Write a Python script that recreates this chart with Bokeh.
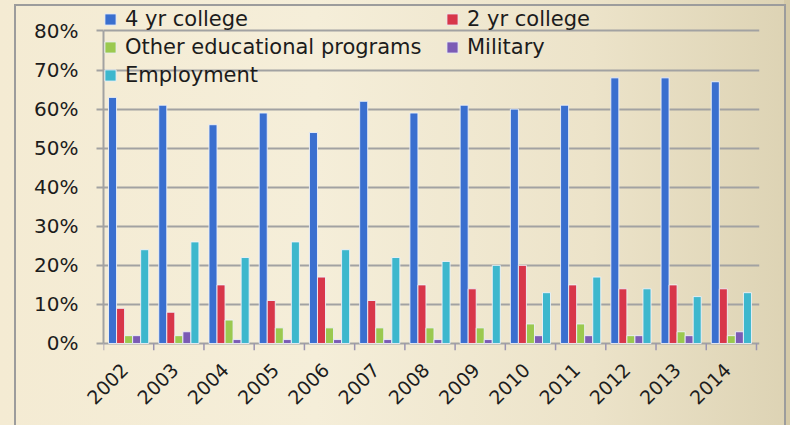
import numpy as np
from bokeh.plotting import figure
from bokeh.models import (ColumnDataSource, Range1d, FixedTicker,
                          NumeralTickFormatter, Legend, LegendItem, InlineStyleSheet)
from bokeh.transform import dodge
from bokeh.embed import file_html
from bokeh.resources import INLINE

# ---- data ----
years = ["2002", "2003", "2004", "2005", "2006", "2007", "2008",
         "2009", "2010", "2011", "2012", "2013", "2014"]
series_names = ["4 yr college", "2 yr college", "Other educational programs",
                "Military", "Employment"]
college4 = [0.63, 0.61, 0.56, 0.59, 0.54, 0.62, 0.59, 0.61, 0.60, 0.61, 0.68, 0.68, 0.67]
college2 = [0.09, 0.08, 0.15, 0.11, 0.17, 0.11, 0.15, 0.14, 0.20, 0.15, 0.14, 0.15, 0.14]
other_edu = [0.02, 0.02, 0.06, 0.04, 0.04, 0.04, 0.04, 0.04, 0.05, 0.05, 0.02, 0.03, 0.02]
military = [0.02, 0.03, 0.01, 0.01, 0.01, 0.01, 0.01, 0.01, 0.02, 0.02, 0.02, 0.02, 0.03]
employment = [0.24, 0.26, 0.22, 0.26, 0.24, 0.22, 0.21, 0.20, 0.13, 0.17, 0.14, 0.12, 0.13]
y_ticks = [0.0, 0.1, 0.2, 0.3, 0.4, 0.5, 0.6, 0.7, 0.8]

colors = ["#3a6fcf", "#d8364a", "#9bc94f", "#7b5bb5", "#3db7cd"]
font = "DejaVu Sans"
text_col = "#1c1c1c"
grid_col = "#a2a2a2"

n = len(years)
centers = [i + 0.5 for i in range(n)]
label_pos = [i + 0.42 for i in range(n)]
src = ColumnDataSource(dict(x=centers, c4=college4, c2=college2, oe=other_edu,
                            mil=military, emp=employment))
cols = ["c4", "c2", "oe", "mil", "emp"]
bar_w = 0.16
offsets = [(k - 2) * bar_w for k in range(5)]

tick_len = 0.018  # tick length below the 0% line, in data units
p = figure(width=790, height=425, x_range=Range1d(0, n + 0.06),
           y_range=Range1d(-tick_len, 0.878), output_backend="svg",
           toolbar_location=None, min_border_left=103, min_border_right=31,
           min_border_top=0, min_border_bottom=75,
           background_fill_alpha=0, border_fill_alpha=0,
           outline_line_color=None)

renderers = []
for k, c in enumerate(cols):
    r = p.vbar(x=dodge("x", offsets[k]), top=c, width=bar_w, source=src,
               fill_color=colors[k], line_color="#eef2f8", line_width=1,
               line_alpha=0.9)
    renderers.append(r)

# boundary ticks under the 0% line
bounds_x = list(range(n + 1))
p.segment(x0=bounds_x, y0=[0] * (n + 1), x1=bounds_x, y1=[-tick_len] * (n + 1),
          line_color="#9a94b0", line_width=1.5)

# y axis
p.yaxis.ticker = FixedTicker(ticks=y_ticks)
p.yaxis.formatter = NumeralTickFormatter(format="0%")
p.yaxis.bounds = (0, 0.8)
p.yaxis.axis_line_color = grid_col
p.yaxis.axis_line_width = 2
p.yaxis.major_tick_out = 7
p.yaxis.major_tick_in = 0
p.yaxis.major_tick_line_color = grid_col
p.yaxis.major_tick_line_width = 2
p.yaxis.minor_tick_line_color = None
p.yaxis.major_label_text_font = font
p.yaxis.major_label_text_font_size = "20px"
p.yaxis.major_label_text_color = text_col
p.yaxis.major_label_standoff = 18

# x axis with rotated year labels
xa = p.xaxis[0]
xa.ticker = FixedTicker(ticks=label_pos)
xa.major_label_overrides = {c: y for c, y in zip(label_pos, years)}
xa.major_label_orientation = np.pi / 4
xa.axis_line_color = None
xa.major_tick_line_color = None
xa.minor_tick_line_color = None
xa.major_label_standoff = 10
xa.major_label_text_font = font
xa.major_label_text_font_size = "19px"
xa.major_label_text_color = text_col

p.xgrid.visible = False
p.ygrid.grid_line_color = grid_col
p.ygrid.grid_line_width = 2

common = dict(background_fill_alpha=0, border_line_color=None, padding=0,
              margin=0, spacing=0, label_height=28, glyph_height=14,
              glyph_width=14, label_standoff=8, label_text_font=font,
              label_text_font_size="21px", label_text_color=text_col)
leg1 = Legend(items=[LegendItem(label=series_names[k], renderers=[renderers[k]])
                     for k in (0, 2, 4)], location=(0, 261), **common)
leg2 = Legend(items=[LegendItem(label=series_names[k], renderers=[renderers[k]])
                     for k in (1, 3)], location=(342, 289), **common)
p.add_layout(leg1, "center")
p.add_layout(leg2, "center")

# gradient background, outer chart frame and darker strip at the right edge
p.stylesheets = [InlineStyleSheet(css="""
:host { position: relative;
  background: linear-gradient(90deg, #f4ebd3 0%, #f5eed9 40%, #ece3c9 75%, #ddd3b4 100%); }
:host::before { content: ""; position: absolute; left: 784px; top: 0px;
  width: 6px; height: 425px; background: #d5caa8; z-index: 5; pointer-events: none; }
:host::after { content: ""; position: absolute; left: 14px; top: 4px;
  width: 772px; height: 421px; box-sizing: border-box;
  border: 2px solid #9c9c9c; border-bottom: none; z-index: 6; pointer-events: none; }
""")]

html = file_html(p, INLINE)
open("out.html", "w").write(html)
